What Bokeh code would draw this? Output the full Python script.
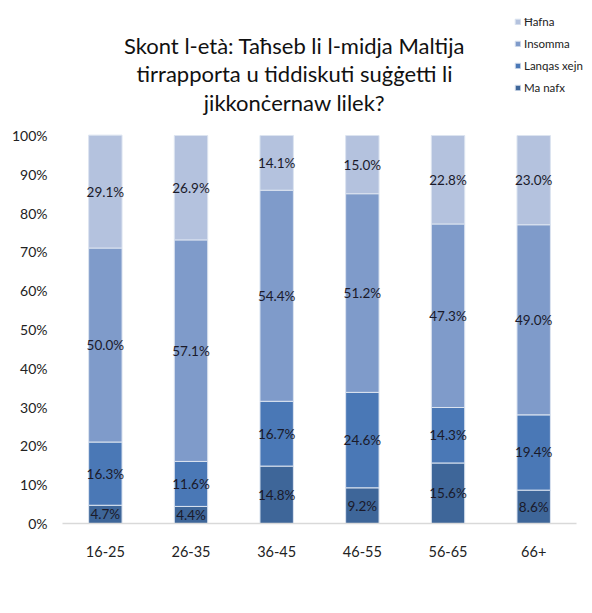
from bokeh.plotting import figure
from bokeh.models import ColumnDataSource, Legend, LegendItem, FixedTicker, Label
from bokeh.core.properties import value
from bokeh.embed import file_html
from bokeh.resources import INLINE

categories = ["16-25", "26-35", "36-45", "46-55", "56-65", "66+"]
series = ["Ma nafx", "Lanqas xejn", "Insomma", "Ħafna"]
ma_nafx = [4.7, 4.4, 14.8, 9.2, 15.6, 8.6]
lanqas_xejn = [16.3, 11.6, 16.7, 24.6, 14.3, 19.4]
insomma = [50.0, 57.1, 54.4, 51.2, 47.3, 49.0]
hafna = [29.1, 26.9, 14.1, 15.0, 22.8, 23.0]
y_ticks = [0, 10, 20, 30, 40, 50, 60, 70, 80, 90, 100]
title_lines = ["Skont l-età: Taħseb li l-midja Maltija",
               "tirrapporta u tiddiskuti suġġetti li",
               "jikkonċernaw lilek?"]

colors = ["#3e6699", "#4a78b6", "#7f9bca", "#b4c2de"]
FONT = "Lato"

values_by_series = [ma_nafx, lanqas_xejn, insomma, hafna]
xpos = list(range(1, len(categories) + 1))
data = {"x": xpos}
for name, vals in zip(series, values_by_series):
    data[name] = vals
src = ColumnDataSource(data)

# numeric x range extended to the right so the legend is not clipped;
# frame extends above 100% to host title and legend
p = figure(x_range=(0.5, 6.593), y_range=(0, 134.8), width=584, height=595,
           output_backend="svg", toolbar_location=None,
           min_border_left=62, min_border_right=0, min_border_top=0,
           min_border_bottom=72)
p.outline_line_color = None
p.xgrid.grid_line_color = None
p.ygrid.grid_line_color = None

renderers = p.vbar_stack(series, x="x", width=0.39, source=src,
                         fill_color=colors, line_color="#dce4f0", line_width=1)

# data labels at segment middles
lx, ly, lt = [], [], []
for i, xv in enumerate(xpos):
    base = 0.0
    for vals in values_by_series:
        v = vals[i]
        lx.append(xv)
        ly.append(base + v / 2.0)
        lt.append(f"{v:.1f}%")
        base += v
p.text(x=lx, y=ly, text=lt, text_align="center", text_baseline="middle",
       text_font=value(FONT), text_font_size="13.5px", text_color="#1a1a2a")

# axes
p.yaxis.ticker = FixedTicker(ticks=y_ticks)
p.yaxis.major_label_overrides = {t: f"{t}%" for t in y_ticks}
p.yaxis.axis_line_color = None
p.yaxis.major_tick_line_color = None
p.yaxis.minor_tick_line_color = None
p.yaxis.major_label_text_font = FONT
p.yaxis.major_label_text_font_size = "14px"
p.yaxis.major_label_text_color = "#222222"
p.yaxis.major_label_standoff = 9

p.xaxis.ticker = FixedTicker(ticks=xpos)
p.xaxis.major_label_overrides = {xv: c for xv, c in zip(xpos, categories)}
p.xaxis.bounds = (0.5, len(categories) + 0.5)
p.xaxis.axis_line_color = "#d9d9d9"
p.xaxis.axis_line_width = 1.5
p.xaxis.major_tick_line_color = None
p.xaxis.minor_tick_line_color = None
p.xaxis.major_label_text_font = FONT
p.xaxis.major_label_text_font_size = "14.5px"
p.xaxis.major_label_text_color = "#222222"
p.xaxis.major_label_standoff = 16

# title lines
for line, yy in zip(title_lines, [123.2, 116.0, 108.5]):
    p.add_layout(Label(x=3.208, y=yy, text=line, text_align="center",
                       text_baseline="middle", text_font=FONT,
                       text_font_size="22px", text_color="#111111"))

# legend
items = [LegendItem(label=name, renderers=[r])
         for name, r in zip(reversed(series), reversed(renderers))]
legend = Legend(items=items, location=(452, 427), orientation="vertical",
                glyph_width=7, glyph_height=7, label_text_font=FONT,
                label_text_font_size="11.5px", label_text_color="#222222",
                label_height=18, spacing=4, padding=0, margin=0,
                label_standoff=3, border_line_color=None,
                background_fill_alpha=0)
p.add_layout(legend, "center")

open("out.html", "w").write(file_html(p, INLINE))
